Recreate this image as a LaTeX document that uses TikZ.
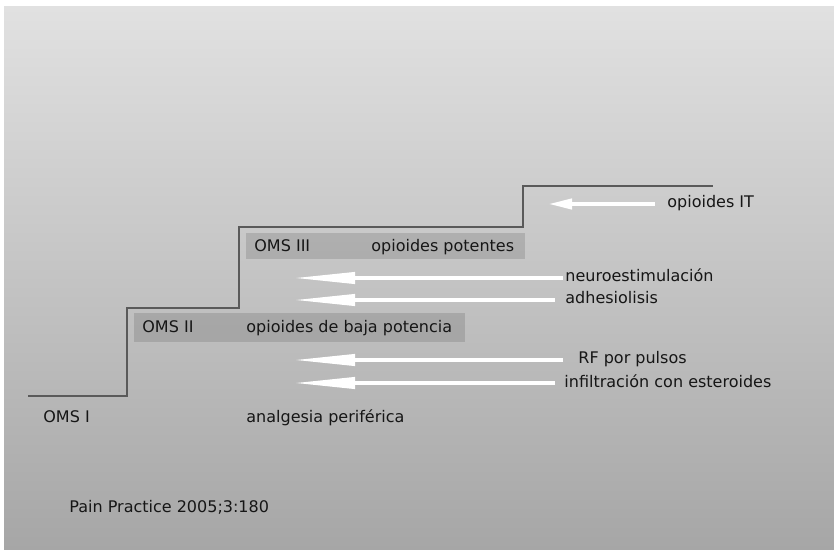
\documentclass[tikz,border=0pt]{standalone}
\usepackage{fontspec}
\setmainfont{DejaVu Sans}
\usepackage{tikz}
\usetikzlibrary{arrows.meta,positioning,calc}
\definecolor{fondoarriba}{RGB}{225,225,225}
\definecolor{fondoabajo}{RGB}{166,166,166}
\definecolor{escalon}{RGB}{90,90,90}
\definecolor{texto}{RGB}{22,22,22}
\tikzset{
  etiqueta/.style={
    anchor=west,
    inner sep=0pt,
    text=texto,
    font=\fontsize{8}{9.6}\selectfont,
    text height=6pt,
    text depth=2pt
  },
  flecha/.style={
    draw=white,
    line width=2pt,
    -{Triangle[length=31pt,width=5.5pt]}
  },
  flecha corta/.style={
    flecha,
    -{Triangle[length=12pt,width=5pt]}
  },
  banda/.style={
    fill=black,
    fill opacity=0.12
  }
}

\begin{document}
\begin{tikzpicture}[x=0.5pt, y=-0.5pt]
   \useasboundingbox (0,0) rectangle (834,550);
   \fill[white] (0,0) rectangle (834,550);
   \shade[top color=fondoarriba, bottom color=fondoabajo] (4,7) rectangle (834,550);

   % bandas
   \fill[banda] (246,233) rectangle (525,259);
   \fill[banda] (134,313) rectangle (465,342);

   % escalera
   \draw[escalon, line width=1pt] (28,396) -- (127,396) -- (127,308) -- (239,308)
        -- (239,227) -- (523,227) -- (523,186) -- (713,186);

   \node[etiqueta] (oms1) at (43,418) {OMS I};
   \node[etiqueta] (ana)  at (246,418) {analgesia periférica};
   \node[etiqueta] (oms2) at (142,329) {OMS II};
   \node[etiqueta] (baja) at (246,329) {opioides de baja potencia};
   \node[etiqueta] (oms3) at (254,248) {OMS III};
   \node[etiqueta] (pot)  at (371,248) {opioides potentes};

   \node[etiqueta] (it)    at (667,204) {opioides IT};
   \node[etiqueta] (neuro) at (565,278) {neuroestimulación};
   \node[etiqueta] (adh)   at (565,300) {adhesiolisis};
   \node[etiqueta] (rf)    at (578,360) {RF por pulsos};
   \node[etiqueta] (infil) at (564,383) {infiltración con esteroides};

   \node[etiqueta] (ref) at (69,508) {Pain Practice 2005;3:180};

   \coordinate (punta) at (293,0);
   \coordinate (puntaIT) at (548,0);

   \draw[flecha corta] ([xshift=-6pt]it.west) -- (it.west -| puntaIT);
   \draw[flecha] ([xshift=-1pt]neuro.west) -- (neuro.west -| punta);
   \draw[flecha] ([xshift=-5pt]adh.west) -- (adh.west -| punta);
   \draw[flecha] ([xshift=-7.5pt]rf.west) -- (rf.west -| punta);
   \draw[flecha] ([xshift=-4.5pt]infil.west) -- (infil.west -| punta);
\end{tikzpicture}
\end{document}
